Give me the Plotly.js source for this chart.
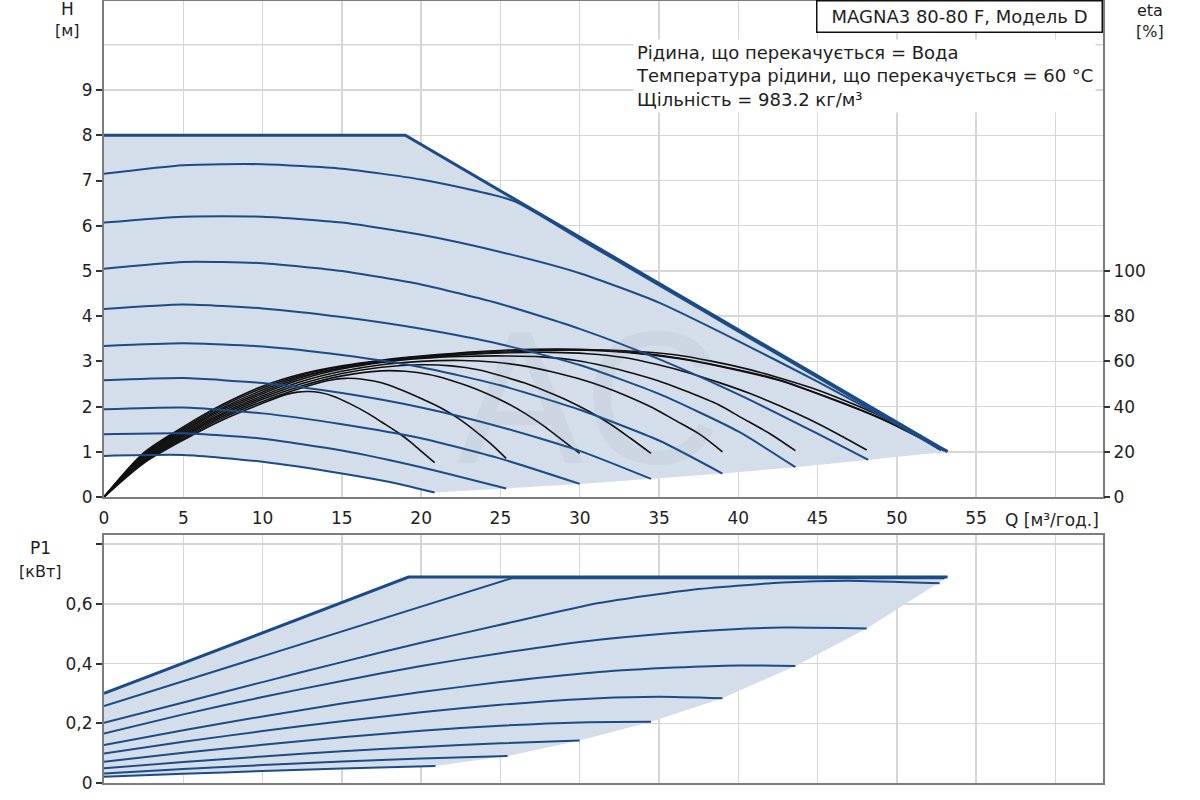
<!DOCTYPE html>
<html>
<head>
<meta charset="utf-8">
<script src="https://cdn.plot.ly/plotly-3.0.1.min.js"></script>
<style>
  html, body { margin: 0; padding: 0; background: #fff; }
  #chart { width: 1200px; height: 800px; }
</style>
</head>
<body>
<div id="chart"></div>
<script>
// axis ticks
const qTicks = [0, 5, 10, 15, 20, 25, 30, 35, 40, 45, 50, 55, 60];
const qTickText = ['0', '5', '10', '15', '20', '25', '30', '35', '40', '45', '50', '55', ''];
const hTicks = [0, 1, 2, 3, 4, 5, 6, 7, 8, 9];
const etaTicks = [0, 20, 40, 60, 80, 100];
const pTicks = [0, 0.2, 0.4, 0.6, 0.8];
const pTickText = ['0', '0,2', '0,4', '0,6', ''];

// head curves H [m] over Q [m3/h]; index 0 = max curve, then speeds high -> low
const headQ = [
  [0, 19.0, 53.2],
  [0, 5, 10, 15, 20, 25.8, 30, 35, 40, 45, 50, 53.0],
  [0, 5, 10, 15, 20, 25, 30, 35, 40, 45, 50, 52.8],
  [0, 5, 10, 15, 20, 25, 30, 35, 40, 45, 48.2],
  [0, 5, 10, 15, 20, 25, 30, 35, 40, 43.6],
  [0, 5, 10, 15, 20, 25, 30, 35, 39],
  [0, 5, 10, 15, 20, 25, 30, 34.5],
  [0, 5, 10, 15, 20, 25, 30],
  [0, 5, 10, 15, 20, 25.36],
  [0, 5, 10, 15, 18.6, 20.85]
];
const headH = [
  [8, 8, 1.0],
  [7.15, 7.34, 7.36, 7.26, 7.02, 6.55, 5.7, 4.68, 3.66, 2.64, 1.62, 1.02],
  [6.07, 6.2, 6.2, 6.07, 5.8, 5.42, 4.95, 4.3, 3.45, 2.55, 1.6, 1.03],
  [5.05, 5.2, 5.17, 5.0, 4.7, 4.27, 3.72, 3.05, 2.27, 1.4, 0.82],
  [4.16, 4.26, 4.17, 3.98, 3.72, 3.38, 2.92, 2.28, 1.45, 0.66],
  [3.34, 3.4, 3.33, 3.14, 2.87, 2.47, 1.93, 1.25, 0.52],
  [2.58, 2.63, 2.52, 2.3, 1.98, 1.55, 1.02, 0.40],
  [1.94, 1.98, 1.85, 1.61, 1.3, 0.85, 0.29],
  [1.39, 1.41, 1.29, 1.03, 0.66, 0.19],
  [0.91, 0.93, 0.78, 0.52, 0.29, 0.10]
];

// efficiency curves eta [%], same order
const etaQ = [
  [0, 2.5, 5, 7.5, 10, 12.5, 15, 17.5, 20, 23.7, 27, 30, 33, 36.3, 39.5, 42.6, 46, 49, 51, 53.2],
  [0, 2.5, 5, 7.5, 10, 12.5, 15, 17.5, 20, 23.7, 27, 30, 33, 36.3, 39.5, 42.6, 46, 49, 51, 53.0],
  [0, 2.5, 5, 7.5, 10, 12.5, 15, 17.5, 20, 23.7, 27, 30.7, 33.4, 36, 38.3, 40.4, 42.5, 44.6, 46.7, 48.7, 50.8, 52.7],
  [0, 2.5, 5, 7.5, 10, 12.5, 15, 17.5, 20, 22.5, 25, 28.1, 30.5, 32.9, 34.9, 36.9, 38.8, 40.7, 42.6, 44.4, 46.3, 48.1],
  [0, 2.5, 5, 7.5, 10, 12.5, 15, 17.5, 20, 22.5, 25.4, 27.6, 29.8, 31.7, 33.4, 35.2, 36.9, 38.7, 40.2, 42, 43.6],
  [0, 2.5, 5, 7.5, 10, 12.5, 15, 17.5, 20, 22.5, 24.7, 26.65, 28.3, 29.9, 31.5, 33, 34.6, 36, 37.6, 39],
  [0, 2.5, 5, 7.5, 10, 12.5, 15, 17.5, 20, 21.9, 23.6, 25.1, 26.5, 27.8, 29.2, 30.6, 31.9, 33.2, 34.5],
  [0, 2.5, 5, 7.5, 10, 12.5, 15, 17.5, 19, 20.5, 21.8, 23, 24.2, 25.4, 26.6, 27.7, 28.9, 30],
  [0, 2.5, 5, 7.5, 10, 12.5, 14, 15.2, 16.5, 17.5, 18.6, 20, 21.2, 22.3, 23.4, 24.4, 25.36],
  [0, 2.5, 5, 7.5, 10, 11.5, 12.2, 12.9, 13.6, 14.5, 15.5, 16.7, 17.5, 18.6, 19.3, 20, 20.85]
];
const etaVal = [
  [0, 19.5, 31, 41, 49, 54.5, 58, 60.5, 62.3, 64.3, 65.3, 65.3, 64.2, 61.4, 57, 51.8, 43.2, 34.8, 28, 20.5],
  [0, 19.0, 30.3, 40.3, 48.2, 54.1, 57.7, 60.3, 62.1, 64.1, 65.1, 65.1, 64, 61.2, 56.8, 51.5, 43, 34.6, 27.8, 20.8],
  [0, 18.5, 29.7, 39.5, 47.3, 53.5, 57.2, 59.9, 61.7, 63.5, 64.6, 65, 64.5, 62.9, 60.1, 56.9, 52.9, 48.3, 42.7, 36.7, 29.3, 21],
  [0, 18.0, 29.0, 38.8, 46.5, 53, 57.2, 60, 61.8, 63, 63.7, 64, 63.4, 61.6, 58.6, 54.9, 50.6, 45.9, 40.4, 34.6, 27.8, 20.8],
  [0, 17.5, 28.4, 38.0, 45.7, 52.2, 56.6, 59.5, 61.3, 62.2, 62.4, 62, 60.4, 57.7, 54.6, 50.8, 46.3, 41, 35.1, 28, 20.5],
  [0, 16.9, 27.8, 37.2, 44.8, 51.2, 55.6, 58.5, 60, 60.4, 59.6, 57.8, 55.3, 52.4, 48.8, 44.6, 39.5, 34, 27.6, 20],
  [0, 16.4, 27.1, 36.5, 44.0, 50.2, 54.6, 57.4, 58.5, 58, 56.3, 53.5, 50.5, 47, 42.8, 37.8, 32.4, 26, 19.3],
  [0, 15.9, 26.5, 35.7, 43.2, 49.2, 53.6, 55.8, 55.6, 54.2, 51.8, 49, 45.6, 41.6, 36.8, 31.6, 25.2, 19.3],
  [0, 15.4, 25.8, 35.0, 42.3, 48.3, 51.3, 52.5, 51.9, 50.5, 47.8, 43.6, 39.6, 35, 29.3, 23.5, 17.1],
  [0, 14.9, 25.2, 34.2, 41.5, 45.4, 46.4, 46.7, 46.2, 44.5, 41.3, 36.8, 33.2, 28.2, 24.5, 20.3, 15.2]
];

// power curves P1 [kW], same order
const powerQ = [
  [0, 19.2, 53.2],
  [0, 25.7, 53.0],
  [0, 5, 10, 15, 20, 25, 31.2, 37, 42.8, 47, 52.7],
  [0, 5, 10, 15, 20, 25, 31.2, 37, 42.8, 48.1],
  [0, 5, 10, 15, 20, 25, 31.2, 36, 40, 43.6],
  [0, 5, 10, 15, 20, 25, 31.2, 35, 39],
  [0, 5, 10, 15, 20, 25, 30, 34.5],
  [0, 5, 10, 15, 20, 25, 30],
  [0, 5, 10, 15, 20, 25.45],
  [0, 5, 10, 15, 20.9]
];
const powerP = [
  [0.30, 0.69, 0.69],
  [0.258, 0.686, 0.686],
  [0.202, 0.27, 0.338, 0.405, 0.47, 0.53, 0.603, 0.647, 0.672, 0.678, 0.669],
  [0.166, 0.23, 0.288, 0.342, 0.392, 0.435, 0.48, 0.507, 0.521, 0.518],
  [0.127, 0.177, 0.223, 0.266, 0.305, 0.338, 0.372, 0.387, 0.394, 0.392],
  [0.099, 0.138, 0.174, 0.207, 0.237, 0.262, 0.284, 0.289, 0.284],
  [0.071, 0.101, 0.128, 0.153, 0.175, 0.192, 0.203, 0.205],
  [0.049, 0.07, 0.089, 0.106, 0.121, 0.133, 0.142],
  [0.032, 0.047, 0.06, 0.072, 0.082, 0.0905],
  [0.021, 0.031, 0.04, 0.049, 0.057]
];

const blue = '#1c4b86';
const fillBlue = '#d3deea';
const gridGrey = '#d6d6d6';
const frameGrey = '#7c7c7c';
const textFont = 'DejaVu Sans';

// operating area: max curve on top, curve ends below, lowest curve back to Q=0
const areaPolygon = (qs, vs) => {
  const x = qs[0].slice(), y = vs[0].slice();
  for (let k = 3; k < qs.length - 1; k++) {
    x.push(qs[k][qs[k].length - 1]);
    y.push(vs[k][vs[k].length - 1]);
  }
  const last = qs.length - 1;
  x.push(...qs[last].slice().reverse());
  y.push(...vs[last].slice().reverse());
  return {x, y};
};

const traces = [];
const headArea = areaPolygon(headQ, headH);
traces.push({
  x: headArea.x, y: headArea.y, xaxis: 'x', yaxis: 'y',
  type: 'scatter', mode: 'lines', fill: 'toself', fillcolor: fillBlue,
  line: {width: 0}
});

etaQ.forEach((q, i) => {
  traces.push({
    x: q, y: etaVal[i], xaxis: 'x', yaxis: 'y2',
    type: 'scatter', mode: 'lines',
    line: {color: '#111', width: 1.6, shape: 'spline', smoothing: 0.8}
  });
});

headQ.forEach((q, i) => {
  traces.push({
    x: q, y: headH[i], xaxis: 'x', yaxis: 'y3',
    type: 'scatter', mode: 'lines',
    line: i === 0 ? {color: blue, width: 3} : {color: blue, width: 2, shape: 'spline', smoothing: 0.6}
  });
});

const powerArea = areaPolygon(powerQ, powerP);
traces.push({
  x: powerArea.x, y: powerArea.y, xaxis: 'x2', yaxis: 'y4',
  type: 'scatter', mode: 'lines', fill: 'toself', fillcolor: fillBlue,
  line: {width: 0}
});

powerQ.forEach((q, i) => {
  traces.push({
    x: q, y: powerP[i], xaxis: 'x2', yaxis: 'y4',
    type: 'scatter', mode: 'lines',
    line: i < 2 ? {color: blue, width: i === 0 ? 3 : 2} : {color: blue, width: 2, shape: 'spline', smoothing: 0.6}
  });
});

// pixel -> paper helpers for labels
const px = v => (v - 104) / 999;
const py = v => (783 - v) / 782;

const label = (x, y, text, size, extra) => Object.assign({
  xref: 'paper', yref: 'paper', x: px(x), y: py(y), text: text, showarrow: false,
  xanchor: 'center', yanchor: 'middle', font: {family: textFont, size: size, color: '#1e1e1e'}
}, extra || {});

const baseAxis = {
  showgrid: true, gridcolor: gridGrey, gridwidth: 1.5,
  showline: true, mirror: true, linecolor: frameGrey, linewidth: 2,
  zeroline: false, tickmode: 'array',
  tickfont: {family: textFont, size: 17, color: '#1e1e1e'}
};

const layout = {
  width: 1200, height: 800,
  margin: {l: 104, r: 97, t: 1, b: 17},
  paper_bgcolor: '#fff', plot_bgcolor: '#fff',
  showlegend: false, hovermode: false,
  font: {family: textFont, size: 17, color: '#1e1e1e'},
  xaxis: Object.assign({}, baseAxis, {
    domain: [0, 1], range: [0, 63], anchor: 'y',
    tickvals: qTicks, ticktext: qTickText, ticks: '', ticklabelstandoff: 5
  }),
  yaxis: Object.assign({}, baseAxis, {
    domain: [0.3657, 1], range: [0, 10.97], anchor: 'x',
    tickvals: hTicks, ticks: 'outside', ticklen: 6, tickwidth: 2, tickcolor: '#333'
  }),
  yaxis2: {
    overlaying: 'y', side: 'right', anchor: 'x', range: [0, 219.4],
    tickmode: 'array', tickvals: etaTicks, showgrid: false, showline: false, zeroline: false,
    ticks: 'outside', ticklen: 6, tickwidth: 2, tickcolor: '#333',
    tickfont: {family: textFont, size: 17, color: '#1e1e1e'}
  },
  yaxis3: {overlaying: 'y', anchor: 'x', range: [0, 10.97], visible: false},
  xaxis2: Object.assign({}, baseAxis, {
    domain: [0, 1], range: [0, 63], anchor: 'y4',
    tickvals: qTicks, showticklabels: false, ticks: ''
  }),
  yaxis4: Object.assign({}, baseAxis, {
    domain: [0, 0.3171], range: [0, 0.8308], anchor: 'x2',
    tickvals: pTicks, ticktext: pTickText,
    ticks: 'outside', ticklen: 6, tickwidth: 2, tickcolor: '#333'
  }),
  shapes: [
    // grid line at H = 10 (no label there)
    {type: 'line', xref: 'x', yref: 'y', x0: 0, x1: 63, y0: 10, y1: 10, layer: 'below',
      line: {color: gridGrey, width: 1.5}}
  ],
  annotations: [
    label(589, 397, 'AC', 190, {font: {family: 'Liberation Sans', size: 190, color: 'rgba(120,130,140,0.08)'}}),
    label(67, 9, 'H', 17),
    label(67, 31, '[м]', 16),
    label(1150, 10, 'eta', 16),
    label(1150, 32, '[%]', 16),
    label(40, 548, 'P1', 17),
    label(40, 571, '[кВт]', 16),
    label(1003, 520, 'Q [м³/год.]', 17, {xanchor: 'left'}),
    label(1103, 0, 'MAGNA3 80-80 F, Модель D', 18, {
      xanchor: 'right', yanchor: 'top', width: 276, height: 22,
      bgcolor: '#fff', bordercolor: '#111', borderwidth: 1.5, borderpad: 4}),
    label(633, 39, 'Рідина, що перекачується = Вода<br>Температура рідини, що перекачується = 60 °C<br>Щільність = 983.2 кг/м³', 18, {
      xanchor: 'left', yanchor: 'top', align: 'left', bgcolor: '#fff', borderpad: 2})
  ]
};

Plotly.newPlot('chart', traces, layout, {staticPlot: true});
</script>
</body>
</html>
